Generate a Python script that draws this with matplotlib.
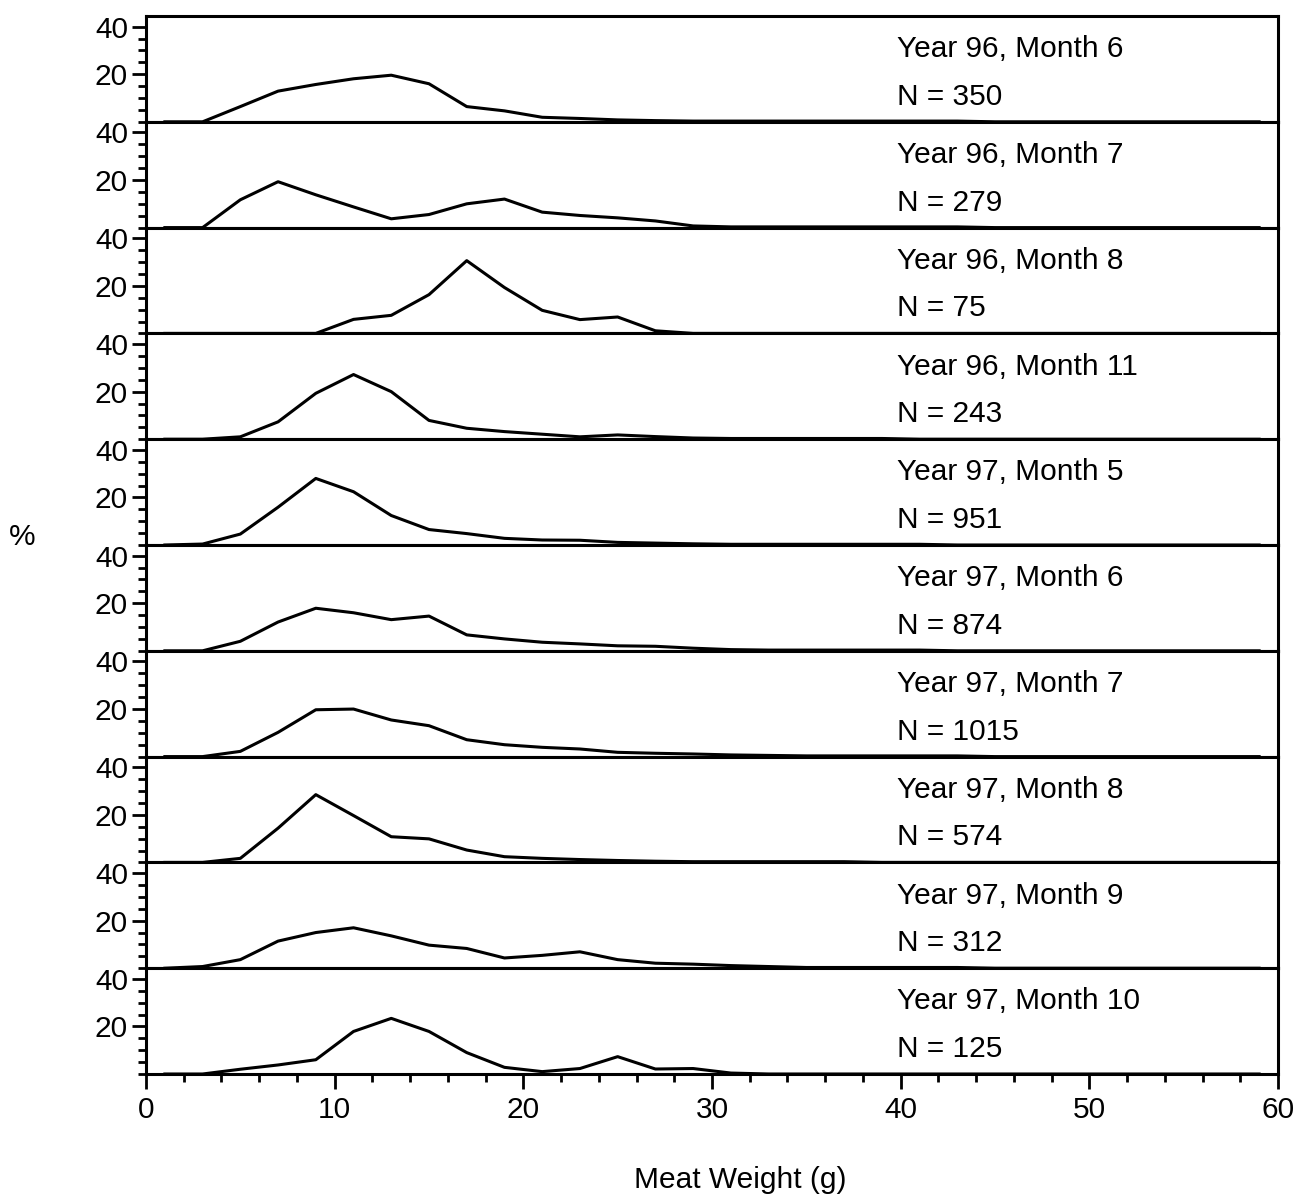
import matplotlib
matplotlib.use("Agg")
import matplotlib.pyplot as plt
from matplotlib.ticker import MultipleLocator

plt.rcParams['font.family'] = ['Liberation Sans', 'DejaVu Sans']

# bin centres (g)
weights = [1, 3, 5, 7, 9, 11, 13, 15, 17, 19, 21, 23, 25, 27, 29,
           31, 33, 35, 37, 39, 41, 43, 45, 47, 49, 51, 53, 55, 57, 59]

labels = ["Year 96, Month 6", "Year 96, Month 7", "Year 96, Month 8",
          "Year 96, Month 11", "Year 97, Month 5", "Year 97, Month 6",
          "Year 97, Month 7", "Year 97, Month 8", "Year 97, Month 9",
          "Year 97, Month 10"]
counts = [350, 279, 75, 243, 951, 874, 1015, 574, 312, 125]

y96_6 = [0, 0, 6.4, 12.9, 15.7, 18.1, 19.6, 16.0, 6.4, 4.6, 1.9, 1.4, 0.8, 0.5, 0.3,
         0.3, 0.3, 0.3, 0.3, 0.3, 0.3, 0.3, 0, 0, 0, 0, 0, 0, 0, 0]
y96_7 = [0, 0, 11.7, 19.3, 13.8, 8.7, 3.7, 5.5, 10.0, 12.0, 6.5, 5.1, 4.1, 2.8, 0.7,
         0.3, 0.3, 0.3, 0.3, 0.3, 0.3, 0.3, 0, 0, 0, 0, 0, 0, 0, 0]
y96_8 = [0, 0, 0, 0, 0, 5.9, 7.6, 16.3, 30.6, 19.3, 9.7, 5.8, 6.9, 1.1, 0,
         0, 0, 0, 0, 0, 0, 0, 0, 0, 0, 0, 0, 0, 0, 0]
y96_11 = [0, 0, 1.0, 7.3, 19.3, 27.2, 20.0, 7.9, 4.6, 3.2, 2.1, 1.0, 1.8, 1.1, 0.5,
          0.3, 0.3, 0.3, 0.3, 0.3, 0, 0, 0, 0, 0, 0, 0, 0, 0, 0]
y97_5 = [0, 0.4, 4.6, 15.9, 28.0, 22.4, 12.4, 6.5, 4.8, 2.8, 2.1, 2.0, 1.1, 0.8, 0.5,
         0.3, 0.3, 0.3, 0.3, 0.3, 0.3, 0, 0, 0, 0, 0, 0, 0, 0, 0]
y97_6 = [0, 0, 4.0, 12.1, 17.9, 16.0, 13.1, 14.6, 6.7, 5.0, 3.6, 2.9, 2.1, 1.9, 1.1,
         0.5, 0.3, 0.3, 0.3, 0.3, 0.3, 0, 0, 0, 0, 0, 0, 0, 0, 0]
y97_7 = [0, 0, 2.2, 10.2, 19.7, 20.0, 15.4, 13.0, 7.1, 5.0, 3.9, 3.2, 1.8, 1.4, 1.1,
         0.7, 0.5, 0.3, 0.3, 0.3, 0.3, 0.3, 0, 0, 0, 0, 0, 0, 0, 0]
y97_8 = [0, 0, 1.7, 14.4, 28.5, 19.7, 10.8, 9.9, 5.2, 2.4, 1.7, 1.2, 0.8, 0.5, 0.3,
         0.3, 0.3, 0.3, 0.3, 0, 0, 0, 0, 0, 0, 0, 0, 0, 0, 0]
y97_9 = [0, 0.7, 3.6, 11.4, 15.0, 17.0, 13.6, 9.7, 8.3, 4.3, 5.4, 6.9, 3.6, 2.1, 1.7,
         1.1, 0.7, 0.3, 0.3, 0.3, 0.3, 0.3, 0, 0, 0, 0, 0, 0, 0, 0]
y97_10 = [0, 0, 2.0, 3.8, 6.0, 17.9, 23.4, 17.9, 9.0, 2.8, 1.0, 2.3, 7.3, 2.1, 2.3,
          0.4, 0, 0, 0, 0, 0, 0, 0, 0, 0, 0, 0, 0, 0, 0]

series = [y96_6, y96_7, y96_8, y96_11, y97_5, y97_6, y97_7, y97_8, y97_9, y97_10]

fig, axes = plt.subplots(10, 1, sharex=True, figsize=(13.12, 11.95), dpi=100)
fig.subplots_adjust(left=146/1312, right=1278/1312, top=1-16/1195,
                    bottom=1-1074/1195, hspace=0)

fs = 21.5
for ax, vals, lab, n in zip(axes, series, labels, counts):
    ax.plot(weights, vals, color='black', lw=2.2)
    ax.set_xlim(0, 60)
    ax.set_ylim(0, 44.5)
    ax.yaxis.set_minor_locator(MultipleLocator(5))
    ax.set_yticks([20, 40])
    ax.tick_params(axis='y', which='major', direction='out', length=10, width=2,
                   labelsize=fs, pad=3)
    ax.tick_params(axis='y', which='minor', direction='out', length=5.5, width=2)
    for s in ax.spines.values():
        s.set_linewidth(2.2)
    ax.text(39.8, 30.5, lab, fontsize=fs, va='center', ha='left')
    ax.text(39.8, 10.5, "N = %d" % n, fontsize=fs, va='center', ha='left')

for ax in axes[:-1]:
    ax.tick_params(axis='x', which='both', bottom=False, labelbottom=False)

axb = axes[-1]
axb.xaxis.set_major_locator(MultipleLocator(10))
axb.xaxis.set_minor_locator(MultipleLocator(2))
axb.tick_params(axis='x', which='major', direction='out', length=11, width=2,
                labelsize=fs, pad=5)
axb.tick_params(axis='x', which='minor', direction='out', length=6, width=2)

fig.text(22/1312, 1-537/1195, "%", fontsize=fs, ha='center', va='center')
fig.text(740/1312, 1-1180/1195, "Meat Weight (g)", fontsize=fs, ha='center', va='center')

fig.savefig("out.png", dpi=100)
